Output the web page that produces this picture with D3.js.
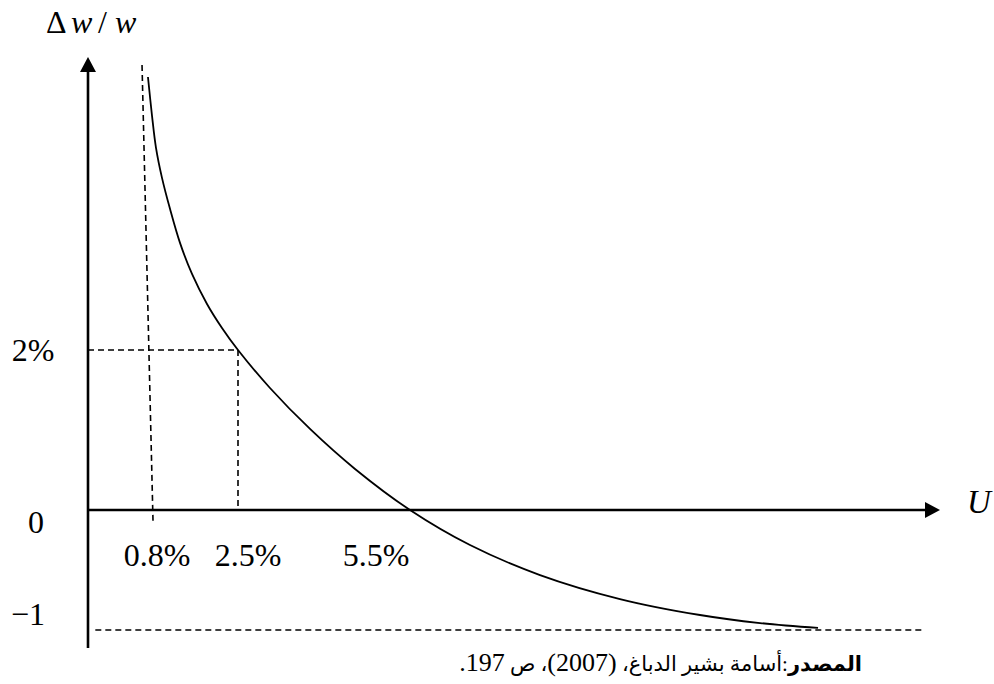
<!DOCTYPE html>
<html>
<head>
<meta charset="utf-8">
<script src="https://cdn.jsdelivr.net/npm/d3@7"></script>
<style>
  body { margin: 0; background: #fff; }
  svg { display: block; }
</style>
</head>
<body>
<div id="chart"></div>
<script>
// Phillips curve (U in %, wage change in %)
var curveU = [0.738, 0.788, 0.86, 0.98, 1.14, 1.34, 1.58, 1.88, 2.18, 2.5, 3.058, 3.756, 4.541, 5.5, 6.547, 7.769, 9.165, 10.561, 11.609, 12.621];
var curveW = [5.41, 4.925, 4.525, 4.15, 3.763, 3.338, 2.95, 2.575, 2.275, 2.0, 1.525, 1.013, 0.513, 0, -0.292, -0.542, -0.742, -0.875, -0.942, -0.983];

var xTicks = [0.8, 2.5, 5.5];
var xTickLabels = ["0.8%", "2.5%", "5.5%"];
var yTicks = [2, 0, -1];
var yTickLabels = ["2%", "0", "\u22121"];

// guide point (2.5%, 2%)
var guideU = 2.5, guideW = 2;
// asymptotes
var asymU = [0.665, 0.8], asymW = [5.56, -0.09];
var floorU = [0.09, 14.45], floorW = -1;

// caption pieces (Arabic words / numbers)
var captionParts = ["المصدر", ":أسامة بشير الدباغ، ", "(2007)", "، ص ", "197."];

var width = 994, height = 684;

var svg = d3.select("#chart").append("svg")
    .attr("width", width)
    .attr("height", height);

// schematic (piecewise) scales
var x = d3.scaleLinear()
    .domain([0, 0.8, 2.5, 5.5, 14.75])
    .range([88, 153, 238, 410, 940]);
var y = d3.scaleLinear()
    .domain([-1.15, -1, 0, 2, 5.66])
    .range([648, 630, 510, 350, 57]);

var dash = "6,4";

function dashed(x1, y1, x2, y2, w) {
    svg.append("line")
        .attr("x1", x1).attr("y1", y1)
        .attr("x2", x2).attr("y2", y2)
        .attr("stroke", "#000")
        .attr("stroke-width", w)
        .attr("stroke-dasharray", dash);
}

// dashed guides
dashed(x(0), y(guideW), x(guideU), y(guideW), 1.6);
dashed(x(guideU), y(guideW), x(guideU), y(0), 1.6);
dashed(x(asymU[0]), y(asymW[0]), x(asymU[1]), y(asymW[1]), 1.6);
dashed(x(floorU[0]), y(floorW), x(floorU[1]), y(floorW), 1.4);

// axes
svg.append("line")
    .attr("x1", x(0)).attr("y1", y(-1.15))
    .attr("x2", x(0)).attr("y2", y(5.66) + 12)
    .attr("stroke", "#000").attr("stroke-width", 2.6);
svg.append("path")
    .attr("d", "M" + x(0) + "," + y(5.66) + "L" + (x(0) - 8) + "," + (y(5.66) + 15) + "L" + (x(0) + 8) + "," + (y(5.66) + 15) + "Z")
    .attr("fill", "#000");
svg.append("line")
    .attr("x1", x(0)).attr("y1", y(0))
    .attr("x2", x(14.75) - 12).attr("y2", y(0))
    .attr("stroke", "#000").attr("stroke-width", 2.6);
svg.append("path")
    .attr("d", "M" + x(14.75) + "," + y(0) + "L" + (x(14.75) - 15) + "," + (y(0) - 8) + "L" + (x(14.75) - 15) + "," + (y(0) + 8) + "Z")
    .attr("fill", "#000");

// the curve
var line = d3.line()
    .x(function (d, i) { return x(curveU[i]); })
    .y(function (d, i) { return y(curveW[i]); })
    .curve(d3.curveCatmullRom.alpha(0.5));
svg.append("path")
    .datum(curveU)
    .attr("d", line)
    .attr("fill", "none")
    .attr("stroke", "#000")
    .attr("stroke-width", 1.8);

// tick labels
var labelShift = [4, 10, -34];
svg.selectAll(".xlab")
    .data(xTicks)
    .enter().append("text")
    .attr("class", "xlab")
    .attr("x", function (d, i) { return x(d) + labelShift[i]; })
    .attr("y", 566)
    .attr("text-anchor", "middle")
    .style("font-family", "'Liberation Serif', serif")
    .style("font-size", "32px")
    .text(function (d, i) { return xTickLabels[i]; });

var yLabX = [33, 36, 28];
var yShift = [11, 23, -5];
svg.selectAll(".ylab")
    .data(yTicks)
    .enter().append("text")
    .attr("class", "ylab")
    .attr("x", function (d, i) { return yLabX[i]; })
    .attr("y", function (d, i) { return y(d) + yShift[i]; })
    .attr("text-anchor", "middle")
    .style("font-family", "'Liberation Serif', serif")
    .style("font-size", "32px")
    .text(function (d, i) { return yTickLabels[i]; });

// axis titles
var yt = svg.append("text")
    .attr("y", 33)
    .style("font-family", "'Liberation Serif', serif")
    .style("font-size", "32px");
yt.append("tspan").attr("x", 46).text("\u0394");
yt.append("tspan").attr("x", 71).style("font-style", "italic").text("w");
yt.append("tspan").attr("x", 98).text("/");
yt.append("tspan").attr("x", 115).style("font-style", "italic").text("w");

svg.append("text")
    .attr("x", 979).attr("y", 513)
    .attr("text-anchor", "middle")
    .style("font-family", "'Liberation Serif', serif")
    .style("font-style", "italic")
    .style("font-size", "33px")
    .text("U");

// source caption (right to left)
var cap = svg.append("text")
    .attr("x", 862).attr("y", 671)
    .attr("direction", "rtl")
    .attr("text-anchor", "start")
    .style("font-family", "'Liberation Serif', 'DejaVu Sans', serif")
    .style("font-size", "21px");
cap.selectAll("tspan")
    .data(captionParts)
    .enter().append("tspan")
    .style("font-weight", function (d, i) { return i === 0 ? "bold" : "normal"; })
    .style("font-size", function (d, i) { return (i === 2 || i === 4) ? "26px" : null; })
    .text(function (d) { return d; });
</script>
</body>
</html>
